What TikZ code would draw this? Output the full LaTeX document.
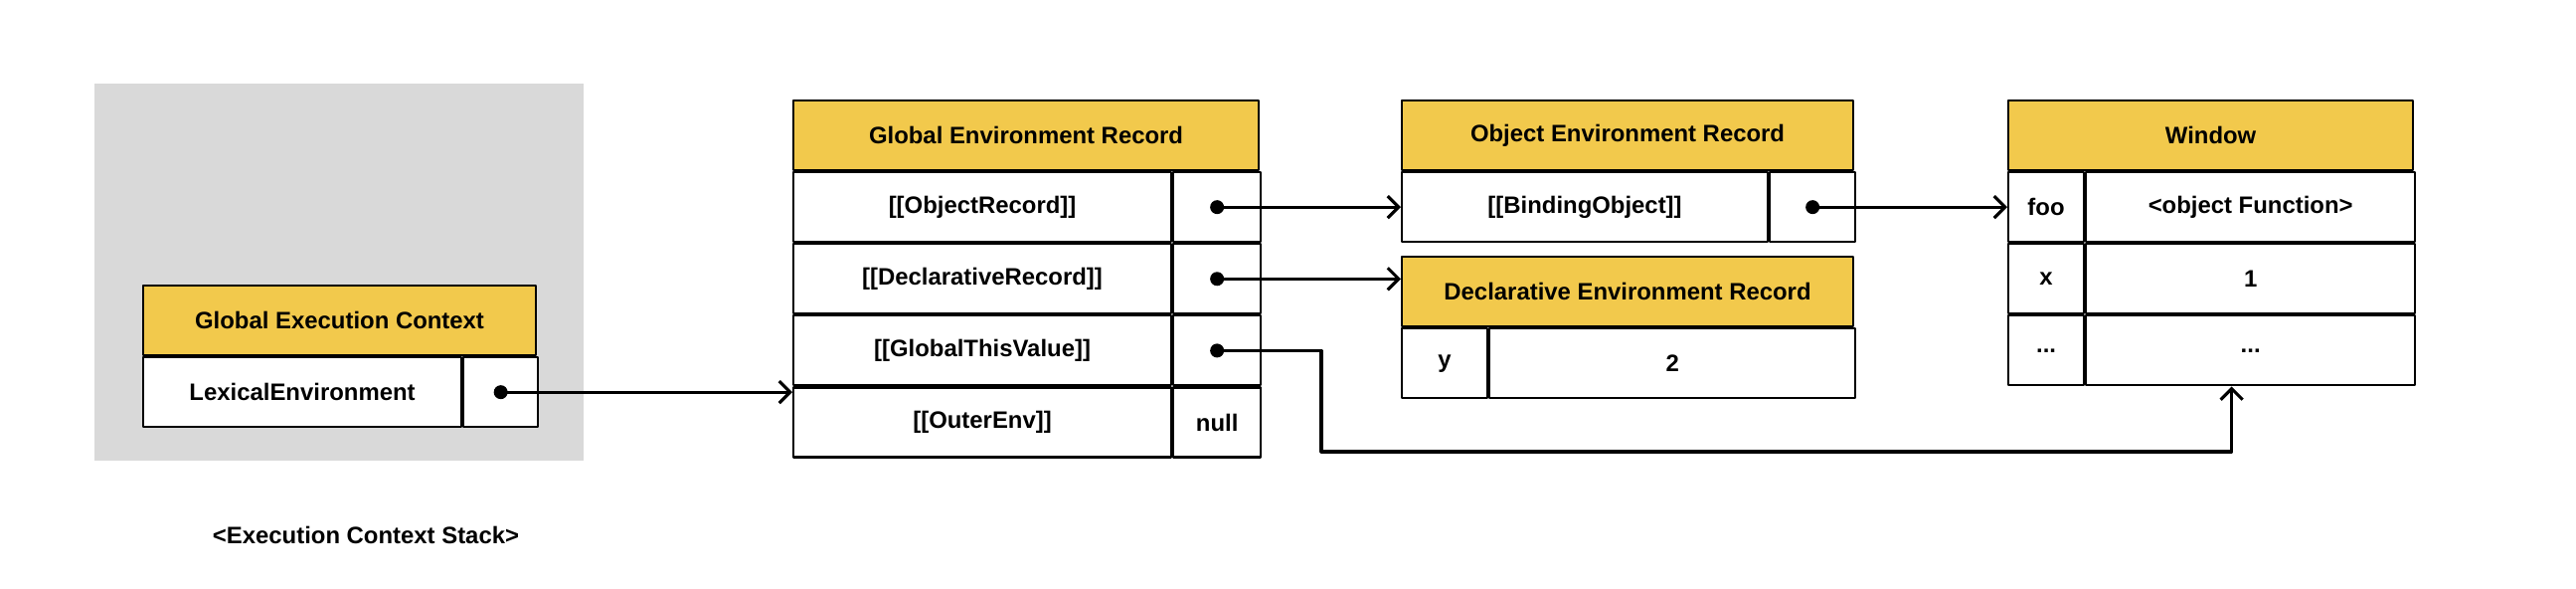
\documentclass[tikz,border=0pt]{standalone}
\usepackage{fontspec}
\setmainfont{Liberation Sans}
\usetikzlibrary{arrows.meta}
\definecolor{headyellow}{HTML}{F2C94C}
\definecolor{stackgray}{HTML}{D9D9D9}
\begin{document}
\begin{tikzpicture}[line join=round,>={Straight Barb[length=1.1mm,width=2.2mm]},
	cell/.style={draw,line width=0.6pt,fill=white,minimum height=0.7cm,inner sep=0pt,anchor=north west,font=\fontsize{6.8}{8}\selectfont\bfseries},
	head/.style={cell,fill=headyellow},
	dot/.style={circle,fill=black,inner sep=0pt,minimum size=0.14cm},
	link/.style={->,line width=0.9pt}]
	\useasboundingbox (0,0) rectangle (25.91,-5.91);
	\fill[stackgray] (0.95,-0.84) rectangle (5.87,-4.63);
	\node[font=\fontsize{6.8}{8}\selectfont\bfseries] (stack) at (3.68,-5.38) {<Execution Context Stack>};
	% execution context
	\node[head,minimum width=3.95cm] (gec) at (1.43,-2.86) {Global Execution Context};
	\node[cell,minimum width=3.20cm] (gec-lex) at (gec.south west) {LexicalEnvironment};
	\node[cell,minimum width=0.75cm] (gec-ptr) at (gec-lex.north east) {};
	% global environment record
	\node[head,minimum width=4.68cm] (ger) at (7.97,-1.00) {Global Environment Record};
	\node[cell,minimum width=3.80cm] (ger-obj) at (ger.south west) {[[ObjectRecord]]};
	\node[cell,minimum width=0.88cm] (ger-objptr) at (ger-obj.north east) {};
	\node[cell,minimum width=3.80cm] (ger-decl) at (ger-obj.south west) {[[DeclarativeRecord]]};
	\node[cell,minimum width=0.88cm] (ger-declptr) at (ger-decl.north east) {};
	\node[cell,minimum width=3.80cm] (ger-this) at (ger-decl.south west) {[[GlobalThisValue]]};
	\node[cell,minimum width=0.88cm] (ger-thisptr) at (ger-this.north east) {};
	\node[cell,minimum width=3.80cm] (ger-outer) at (ger-this.south west) {[[OuterEnv]]};
	\node[cell,minimum width=0.88cm] (ger-null) at (ger-outer.north east) {null};
	% object environment record
	\node[head,minimum width=4.54cm] (oer) at (14.09,-1.00) {Object Environment Record};
	\node[cell,minimum width=3.68cm] (oer-bind) at (oer.south west) {[[BindingObject]]};
	\node[cell,minimum width=0.86cm] (oer-ptr) at (oer-bind.north east) {};
	% declarative environment record
	\node[head,minimum width=4.54cm] (der) at (14.09,-2.57) {Declarative Environment Record};
	\node[cell,minimum width=0.86cm] (der-y) at (der.south west) {y};
	\node[cell,minimum width=3.68cm] (der-yval) at (der-y.north east) {2};
	% window
	\node[head,minimum width=4.07cm] (win) at (20.19,-1.00) {Window};
	\node[cell,minimum width=0.76cm] (win-foo) at (win.south west) {foo};
	\node[cell,minimum width=3.31cm] (win-fooval) at (win-foo.north east) {<object Function>};
	\node[cell,minimum width=0.76cm] (win-x) at (win-foo.south west) {x};
	\node[cell,minimum width=3.31cm] (win-xval) at (win-x.north east) {1};
	\node[cell,minimum width=0.76cm] (win-etc) at (win-x.south west) {...};
	\node[cell,minimum width=3.31cm] (win-etcval) at (win-etc.north east) {...};
	% pointers
	\node[dot] (d-lex) at (gec-ptr.center) {};
	\node[dot] (d-obj) at (ger-objptr.center) {};
	\node[dot] (d-decl) at (ger-declptr.center) {};
	\node[dot] (d-this) at (ger-thisptr.center) {};
	\node[dot] (d-bind) at (oer-ptr.center) {};
	\coordinate (bend) at (13.29,-4.54);
	\draw[link] (d-lex.center) -- (d-lex.center -| ger-outer.west);
	\draw[link] (d-obj.center) -- (oer-bind.west);
	\draw[link] (d-decl.center) -- (d-decl.center -| der.west);
	\draw[link] (d-bind.center) -- (win-foo.west);
	\draw[link] (d-this.center) -| (bend) -| ([xshift=-0.19cm]win-etcval.south);
\end{tikzpicture}
\end{document}
